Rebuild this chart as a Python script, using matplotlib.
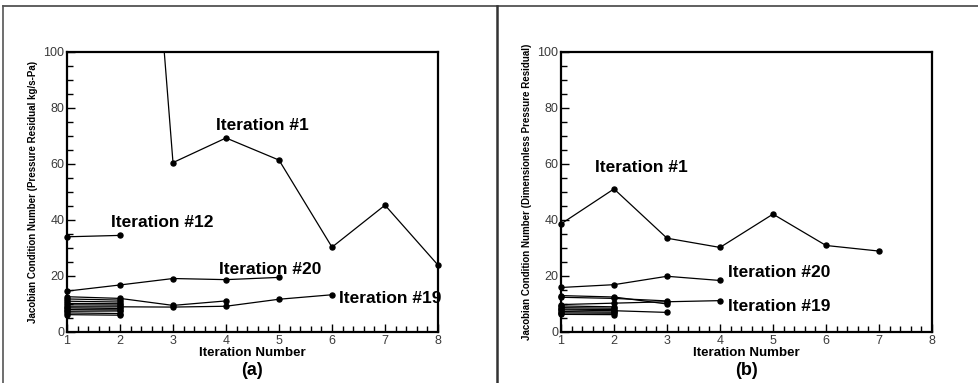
import matplotlib.pyplot as plt
from matplotlib.lines import Line2D
from matplotlib.ticker import MultipleLocator

plt.rcParams['font.family'] = ['Liberation Sans', 'DejaVu Sans']

# (a) pressure residual in kg/s-Pa
a_iter1_x = [2, 3, 4, 5, 6, 7, 8]
a_iter1_y = [300, 60.5, 69.3, 61.4, 30.3, 45.3, 23.9]
a_iter12_y = [34.0, 34.5]
a_iter20_y = [14.6, 16.8, 19.1, 18.7, 19.5]
a_iter19_y = [9.0, 9.0, 8.9, 9.2, 11.7, 13.3]
a_other_y = [
    [12.6, 12.0, 9.5, 11.1],
    [11.8, 11.4],
    [11.0, 10.7],
    [10.2, 10.1],
    [9.7, 9.6],
    [8.6, 8.4],
    [8.0, 7.9],
    [7.4, 7.5],
    [6.8, 6.6],
    [6.2, 6.0],
]

# (b) dimensionless pressure residual
b_iter1_y = [38.6, 51.1, 33.5, 30.2, 42.1, 30.9, 28.9]
b_iter20_y = [15.9, 16.9, 19.9, 18.4]
b_iter19_y = [9.8, 10.3, 10.8, 11.2]
b_other_y = [
    [13.0, 12.5, 10.0],
    [12.4, 12.0, 11.1],
    [9.3, 9.0],
    [8.7, 8.5],
    [8.2, 8.0],
    [7.9, 7.6, 7.0],
    [7.3, 7.1],
    [6.8, 6.7],
    [6.3, 6.2],
]

a_labels = [("Iteration #1", 4.68, 73.8), ("Iteration #12", 2.79, 39.0),
            ("Iteration #20", 4.83, 22.4), ("Iteration #19", 7.09, 12.1)]
b_labels = [("Iteration #1", 2.51, 58.6), ("Iteration #20", 5.11, 21.2),
            ("Iteration #19", 5.11, 9.0)]


def draw_series(ax, x, y):
    ax.plot(x, y, color='black', lw=0.9)
    pts = [(xi, yi) for xi, yi in zip(x, y) if yi <= 100]
    ax.plot([p[0] for p in pts], [p[1] for p in pts], 'o', color='black',
            ms=3.6, clip_on=False, zorder=5)


def setup_axes(ax, ylabel, tag):
    ax.set_xlim(1, 8)
    ax.set_ylim(0, 100)
    ax.xaxis.set_major_locator(MultipleLocator(1))
    ax.xaxis.set_minor_locator(MultipleLocator(0.2))
    ax.yaxis.set_major_locator(MultipleLocator(20))
    ax.yaxis.set_minor_locator(MultipleLocator(5))
    ax.tick_params(which='both', direction='in', top=False, right=False,
                   width=1, colors='black', labelcolor='#3a3a3a',
                   labelsize=9, pad=2)
    ax.tick_params(which='major', length=6)
    ax.tick_params(which='minor', length=4)
    for s in ax.spines.values():
        s.set_linewidth(1.6)
    ax.set_xlabel("Iteration Number", fontsize=9.6, fontweight='bold',
                  labelpad=0)
    ax.set_ylabel(ylabel, fontsize=7, fontweight='bold', labelpad=4)
    ax.text(0.5, -0.136, tag, transform=ax.transAxes, ha='center',
            va='center', fontsize=13, fontweight='bold')


fig = plt.figure(figsize=(9.79, 3.83), dpi=100)
W, H = 979, 383
ax_a = fig.add_axes([67 / W, 1 - 332 / H, (438 - 67) / W, (332 - 52) / H])
ax_b = fig.add_axes([561 / W, 1 - 332 / H, (932 - 561) / W, (332 - 52) / H])

draw_series(ax_a, a_iter1_x, a_iter1_y)
draw_series(ax_a, [1, 2], a_iter12_y)
draw_series(ax_a, list(range(1, len(a_iter20_y) + 1)), a_iter20_y)
draw_series(ax_a, list(range(1, len(a_iter19_y) + 1)), a_iter19_y)
for ys in a_other_y:
    draw_series(ax_a, list(range(1, len(ys) + 1)), ys)

draw_series(ax_b, list(range(1, len(b_iter1_y) + 1)), b_iter1_y)
draw_series(ax_b, list(range(1, len(b_iter20_y) + 1)), b_iter20_y)
draw_series(ax_b, list(range(1, len(b_iter19_y) + 1)), b_iter19_y)
for ys in b_other_y:
    draw_series(ax_b, list(range(1, len(ys) + 1)), ys)

for txt, x, y in a_labels:
    ax_a.text(x, y, txt, ha='center', va='center', fontsize=12.5,
              fontweight='bold')
for txt, x, y in b_labels:
    ax_b.text(x, y, txt, ha='center', va='center', fontsize=12.5,
              fontweight='bold')

setup_axes(ax_a, "Jacobian Condition Number (Pressure Residual kg/s-Pa)",
           "(a)")
setup_axes(ax_b, "Jacobian Condition Number (Dimensionless Pressure Residual)",
           "(b)")

# table-style frame around the two panels
fig.add_artist(Line2D([3 / W, 1], [1 - 6 / H, 1 - 6 / H],
                      color='#444444', lw=1.2))
fig.add_artist(Line2D([3 / W, 3 / W], [0, 1 - 6 / H],
                      color='#555555', lw=1.2))
fig.add_artist(Line2D([497 / W, 497 / W], [0, 1 - 6 / H],
                      color='#333333', lw=1.8))

fig.savefig("out.png", dpi=100)
